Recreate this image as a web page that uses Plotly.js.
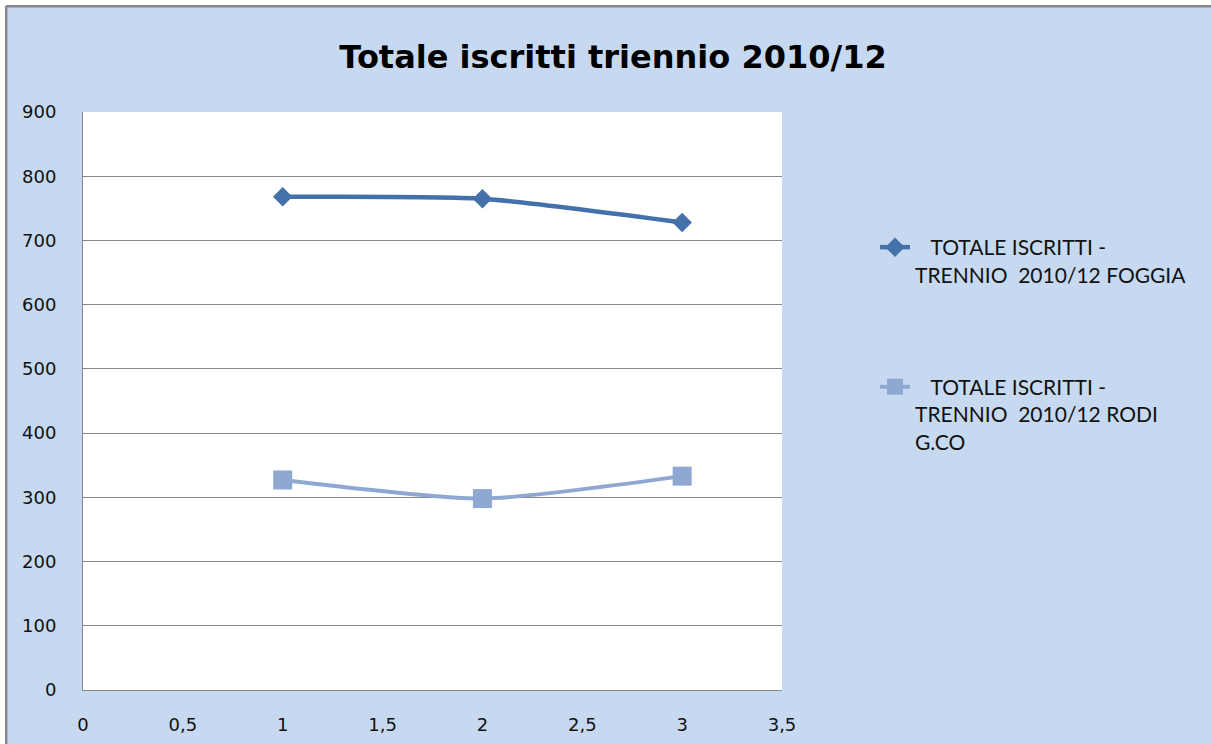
<!DOCTYPE html>
<html>
<head>
<meta charset="utf-8">
<script src="https://cdn.plot.ly/plotly-3.0.1.min.js"></script>
<style>
  html, body { margin: 0; padding: 0; background: #ffffff; }
  #chart { width: 1211px; height: 744px; }
</style>
</head>
<body>
<div id="chart"></div>
<script>
// ---- data ----
const xValues = [1, 2, 3];
const foggiaValues = [768, 765, 728];
const rodiValues = [327, 298, 333];
const foggiaName = "\u00A0\u00A0\u00A0TOTALE ISCRITTI -<br>TRENNIO\u00A0\u00A02010/12 FOGGIA";
const rodiName = "\u00A0\u00A0\u00A0TOTALE ISCRITTI -<br>TRENNIO\u00A0\u00A02010/12 RODI<br>G.CO";
const chartTitle = "Totale iscritti triennio 2010/12";
const xTickVals = [0, 0.5, 1, 1.5, 2, 2.5, 3, 3.5];
const yTickVals = [0, 100, 200, 300, 400, 500, 600, 700, 800, 900];

// ---- layout geometry (pixels) ----
const W = 1211, H = 744;
const L = 83, R = 782, T = 112, B = 690;
const px = v => (v - L) / (R - L);
const py = v => (B - v) / (B - T);

const bg = '#C6D9F0';
const frame = '#878787';

const traces = [
  {
    x: xValues, y: foggiaValues, name: foggiaName, type: 'scatter', mode: 'lines+markers',
    line: { color: '#4471A9', width: 4.5, shape: 'spline', smoothing: 0.6 },
    marker: { symbol: 'diamond', size: 15, color: '#4471A9' },
    legendgroup: 'a'
  },
  {
    x: xValues, y: rodiValues, name: rodiName, type: 'scatter', mode: 'lines+markers',
    line: { color: '#8FA8D2', width: 4, shape: 'spline', smoothing: 0.6 },
    marker: { symbol: 'square', size: 19, color: '#8FA8D2' },
    legendgroup: 'b'
  }
];

const layout = {
  width: W, height: H,
  margin: { l: L, r: W - R, t: T, b: H - B, pad: 0 },
  paper_bgcolor: bg,
  plot_bgcolor: '#ffffff',
  separators: ',.',
  font: { family: 'Lato, "DejaVu Sans", sans-serif', color: '#111111', size: 17 },
  title: {
    text: chartTitle,
    font: { family: '"DejaVu Sans", sans-serif', size: 32, color: '#000000', weight: 'bold' },
    x: 613 / W, xanchor: 'center', xref: 'container',
    y: 1 - 57 / H, yanchor: 'middle', yref: 'container'
  },
  xaxis: {
    range: [0, 3.5], tickvals: xTickVals, tickformat: '.1~f',
    showgrid: false, zeroline: false,
    showline: true, linecolor: frame, linewidth: 1,
    ticks: '', ticklabelstandoff: 18,
    tickfont: { family: '"DejaVu Sans", sans-serif', size: 18, color: '#111111' },
    fixedrange: true
  },
  yaxis: {
    range: [0, 900], tickvals: yTickVals,
    showgrid: true, gridcolor: frame, gridwidth: 1,
    zeroline: false,
    showline: true, linecolor: frame, linewidth: 1,
    ticks: '', ticklabelstandoff: 22,
    tickfont: { family: '"DejaVu Sans", sans-serif', size: 18, color: '#111111' },
    fixedrange: true
  },
  showlegend: true,
  legend: {
    x: px(875), y: py(227), xanchor: 'left', yanchor: 'top',
    bgcolor: 'rgba(0,0,0,0)', borderwidth: 0,
    font: { family: 'Lato, "DejaVu Sans", sans-serif', size: 21, color: '#111111' },
    valign: 'top', traceorder: 'grouped', tracegroupgap: 82,
    itemwidth: 30
  },
  shapes: [
    // white strips outside the chart frame
    { type: 'rect', xref: 'paper', yref: 'paper', x0: px(-5), x1: px(W + 5), y0: py(6), y1: py(-5),
      fillcolor: '#ffffff', line: { width: 0 }, layer: 'above' },
    { type: 'rect', xref: 'paper', yref: 'paper', x0: px(-5), x1: px(6), y0: py(H + 5), y1: py(-5),
      fillcolor: '#ffffff', line: { width: 0 }, layer: 'above' },
    // grey frame lines
    { type: 'line', xref: 'paper', yref: 'paper', x0: px(6), x1: px(W + 5), y0: py(6.2), y1: py(6.2),
      line: { color: frame, width: 2.5 }, layer: 'above' },
    { type: 'line', xref: 'paper', yref: 'paper', x0: px(6.2), x1: px(6.2), y0: py(6), y1: py(H + 5),
      line: { color: frame, width: 2.5 }, layer: 'above' }
  ]
};

Plotly.newPlot('chart', traces, layout, { displayModeBar: false, staticPlot: true });
</script>
</body>
</html>
